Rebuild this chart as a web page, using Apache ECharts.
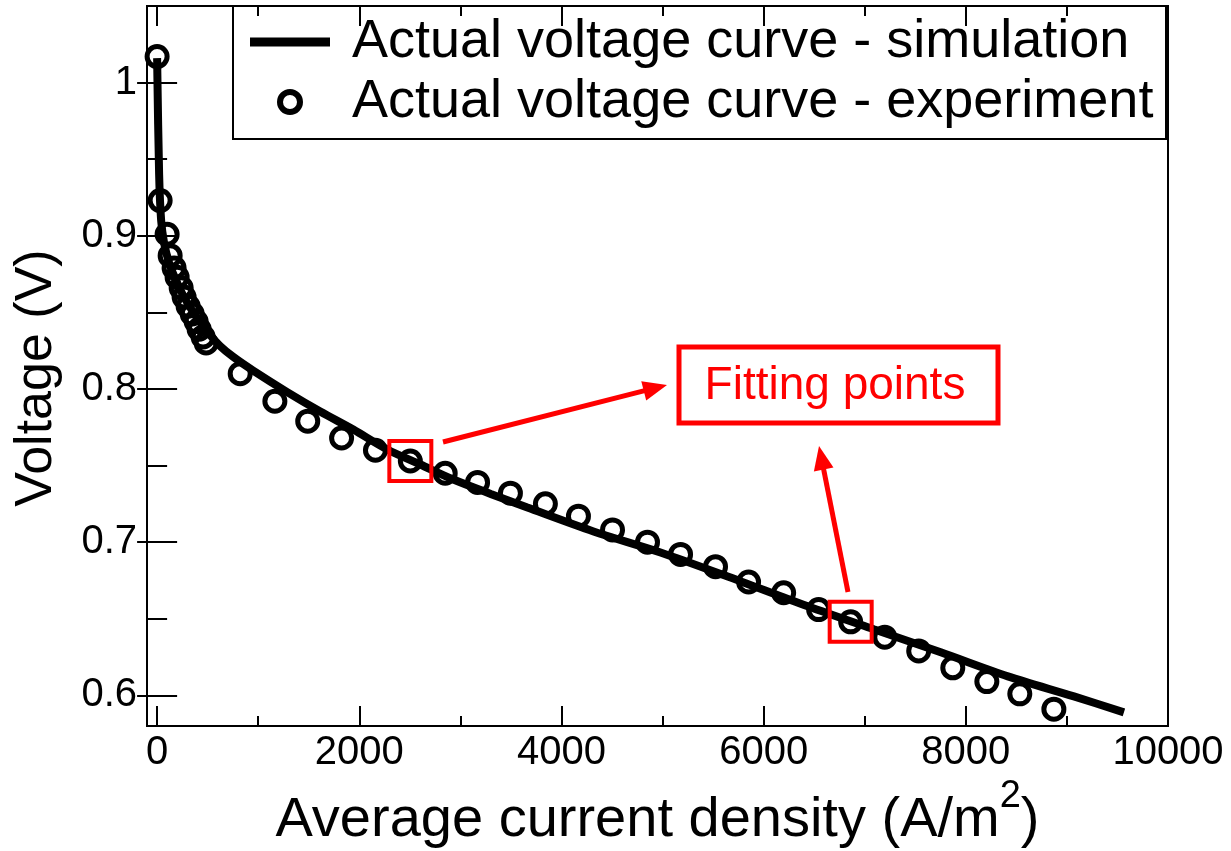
<!DOCTYPE html>
<html>
<head>
<meta charset="utf-8">
<script src="https://cdn.jsdelivr.net/npm/echarts@6/dist/echarts.min.js"></script>
<style>html,body{margin:0;padding:0;background:#fff;}#c{width:1231px;height:851px;}</style>
</head>
<body>
<div id="c"></div>
<script>
// ---- data ----
const xMajorTicks = [0, 2000, 4000, 6000, 8000, 10000];
const xMinorTicks = [1000, 3000, 5000, 7000, 9000];
const yMajorTicks = [0.6, 0.7, 0.8, 0.9, 1.0];
const yMinorTicks = [0.65, 0.75, 0.85, 0.95];

const expCurrent = [0, 30, 99, 129, 168, 198, 238, 267, 307, 347, 386, 416, 455, 485,
  822, 1165, 1490, 1825, 2160, 2505, 2850, 3170, 3495, 3841, 4168, 4505, 4851, 5178,
  5524, 5851, 6198, 6544, 6861, 7198, 7534, 7871, 8208, 8534, 8871];
const expVoltage = [1.017, 0.923, 0.901, 0.887, 0.879, 0.873, 0.866, 0.860, 0.854, 0.849, 0.844, 0.839, 0.834, 0.830,
  0.810, 0.792, 0.779, 0.768, 0.760, 0.753, 0.745, 0.739, 0.732, 0.725, 0.717, 0.708, 0.700, 0.692,
  0.684, 0.674, 0.667, 0.656, 0.648, 0.638, 0.629, 0.618, 0.609, 0.601, 0.591];

const simCurrent = [0, 20, 40, 70, 120, 180, 250, 330, 420, 500, 624, 752, 950, 1287, 1614, 1941,
  2277, 2604, 2931, 3300, 3663, 4317, 4980, 5644, 6436, 7089, 7752, 8416, 9069, 9564];
const simVoltage = [1.016, 0.940, 0.910, 0.895, 0.882, 0.872, 0.862, 0.853, 0.844, 0.837, 0.828, 0.821, 0.812, 0.798, 0.7853, 0.7735,
  0.7605, 0.7507, 0.7409, 0.7315, 0.7226, 0.707, 0.6933, 0.6776, 0.6581, 0.6431, 0.6281, 0.6124, 0.5993, 0.5889];

const fittingCurrent = [2505, 6861];
const fittingVoltage = [0.753, 0.648];

const simName = 'Actual voltage curve - simulation';
const expName = 'Actual voltage curve - experiment';
const annotationText = 'Fitting points';

// ---- chart ----
const FONT = '"Liberation Sans", Arial, Helvetica, sans-serif';
const xMin = -100, xMax = 10000, yMin = 0.58, yMax = 1.05;

function xAx(pos, ticks, len, labels) {
  const a = {
    type: 'value', min: xMin, max: xMax, position: pos, gridIndex: 0,
    axisLine: { show: false }, splitLine: { show: false },
    axisTick: { show: true, inside: true, length: len, customValues: ticks, lineStyle: { color: '#000', width: 2 } },
    axisLabel: { show: false }
  };
  if (labels) {
    a.axisLabel = { show: true, customValues: ticks, formatter: v => String(v), fontSize: 40, color: '#000', fontFamily: FONT, margin: 7 };
    a.name = '{a|Average current density (A/m}{b|2}{a|)}';
    a.nameLocation = 'middle';
    a.nameGap = 50;
    a.nameTextStyle = {
      color: '#000', fontFamily: FONT,
      rich: {
        a: { fontSize: 56, color: '#000', fontFamily: FONT, verticalAlign: 'bottom', lineHeight: 71 },
        b: { fontSize: 38, color: '#000', fontFamily: FONT, verticalAlign: 'top', lineHeight: 38, padding: [0, 0, 56, 0] }
      }
    };
  }
  return a;
}
function yAx(pos, ticks, len, labels) {
  const a = {
    type: 'value', min: yMin, max: yMax, position: pos, gridIndex: 0,
    axisLine: { show: false }, splitLine: { show: false },
    axisTick: { show: true, inside: true, length: len, customValues: ticks, lineStyle: { color: '#000', width: 2 } },
    axisLabel: { show: false }
  };
  if (labels) {
    a.axisLabel = { show: true, customValues: ticks, formatter: v => String(v), fontSize: 40, color: '#000', fontFamily: FONT, margin: 10 };
    a.name = 'Voltage (V)';
    a.nameLocation = 'middle';
    a.nameGap = 84;
    a.nameTextStyle = { fontSize: 52, color: '#000', fontFamily: FONT, padding: [0, 24, 0, 0] };
  }
  return a;
}

const chart = echarts.init(document.getElementById('c'), null, { renderer: 'canvas' });
chart.setOption({
  animation: false,
  backgroundColor: '#fff',
  grid: { left: 147, right: 63, top: 6, bottom: 125, show: true, borderColor: '#000', borderWidth: 2, backgroundColor: 'transparent', containLabel: false, outerBoundsMode: 'none' },
  xAxis: [
    xAx('bottom', xMajorTicks, 20, true),
    xAx('bottom', xMinorTicks, 10, false),
    xAx('top', xMajorTicks, 20, false),
    xAx('top', xMinorTicks, 10, false)
  ],
  yAxis: [
    yAx('left', yMajorTicks, 20, true),
    yAx('left', yMinorTicks, 10, false),
    yAx('right', yMajorTicks, 20, false),
    yAx('right', yMinorTicks, 10, false)
  ],
  legend: {
    orient: 'vertical', left: 250, top: 12, padding: 0, itemGap: 0,
    itemWidth: 80, itemHeight: 20, selectedMode: false,
    textStyle: { fontSize: 54, color: '#000', fontFamily: FONT, lineHeight: 50, padding: [0, 0, 10, 17] },
    data: [
      { name: simName, icon: 'path://M0,0H80V9H0Z', itemStyle: { color: '#000', borderWidth: 0, opacity: 1 } },
      { name: expName, icon: 'circle', itemStyle: { color: 'rgba(0,0,0,0)', borderColor: '#000', borderWidth: 6, opacity: 1 } }
    ]
  },
  series: [
    {
      name: simName, type: 'line', xAxisIndex: 0, yAxisIndex: 0,
      data: simCurrent.map((x, i) => [x, simVoltage[i]]),
      showSymbol: false, smooth: 0.3,
      lineStyle: { color: '#000', width: 8 }, itemStyle: { color: '#000' }, z: 2
    },
    {
      name: expName, type: 'scatter', xAxisIndex: 0, yAxisIndex: 0,
      data: expCurrent.map((x, i) => [x, expVoltage[i]]),
      symbol: 'circle', symbolSize: 20,
      itemStyle: { color: 'rgba(0,0,0,0)', borderColor: '#000', borderWidth: 5, opacity: 1 }, z: 3
    }
  ]
});

// ---- annotations ----
function arrow(x1, y1, x2, y2, color, w, hl, hw) {
  const ang = Math.atan2(y2 - y1, x2 - x1);
  const cx = Math.cos(ang), sy = Math.sin(ang);
  const bx = x2 - hl * cx, by = y2 - hl * sy;
  return [
    { type: 'line', shape: { x1: x1, y1: y1, x2: bx + 2 * cx, y2: by + 2 * sy }, style: { stroke: color, lineWidth: w }, z: 100 },
    { type: 'polygon', shape: { points: [[x2, y2], [bx - hw * sy, by + hw * cx], [bx + hw * sy, by - hw * cx]] }, style: { fill: color }, z: 100 }
  ];
}
const RED = '#ff0000';
const g = [];
// legend frame
g.push({ type: 'rect', shape: { x: 233, y: 6, width: 933, height: 133 }, style: { fill: 'none', stroke: '#000', lineWidth: 2 }, z: 50 });
fittingCurrent.forEach((x, i) => {
  const p = chart.convertToPixel({ xAxisIndex: 0, yAxisIndex: 0 }, [x, fittingVoltage[i]]);
  g.push({ type: 'rect', shape: { x: p[0] - 21, y: p[1] - 20, width: 42, height: 40 }, style: { fill: 'none', stroke: RED, lineWidth: 4 }, z: 100 });
});
arrow(443, 442, 667, 385, RED, 5, 24, 10).forEach(e => g.push(e));
arrow(848, 592, 819, 446, RED, 5, 24, 10).forEach(e => g.push(e));
g.push({ type: 'rect', shape: { x: 679, y: 347, width: 319, height: 76 }, style: { fill: '#fff', stroke: RED, lineWidth: 5 }, z: 100 });
g.push({ type: 'text', x: 835, y: 386, style: { text: annotationText, fill: RED, fontSize: 46, fontFamily: FONT, align: 'center', verticalAlign: 'middle' }, z: 101 });
chart.setOption({ graphic: g });
</script>
</body>
</html>
